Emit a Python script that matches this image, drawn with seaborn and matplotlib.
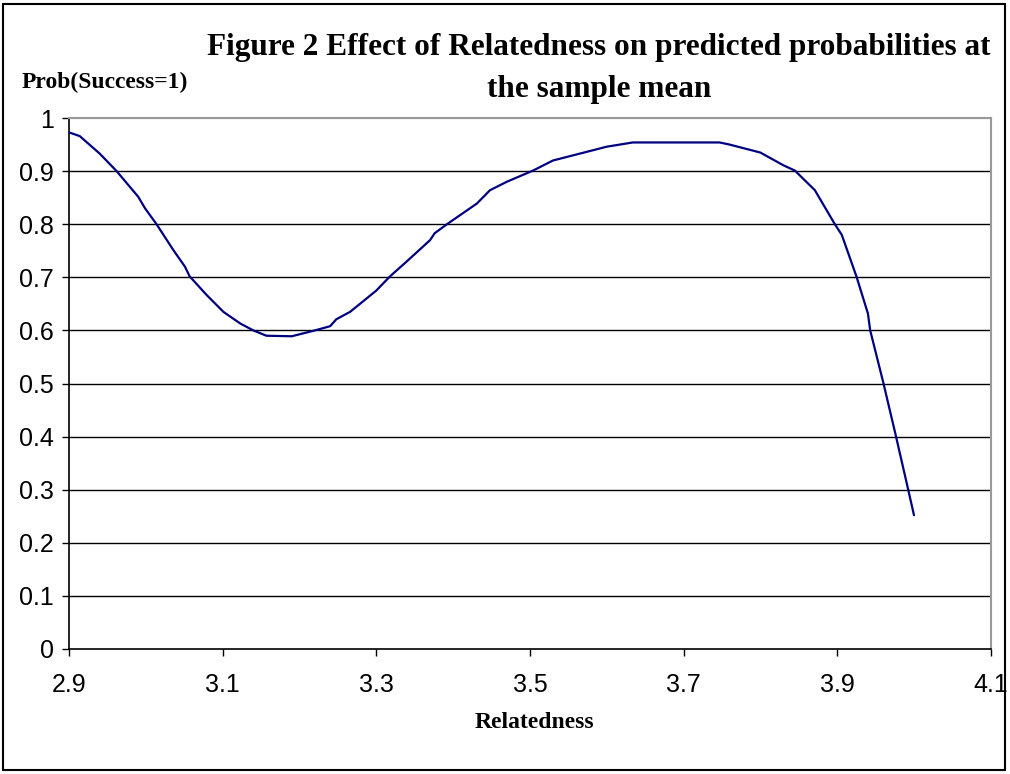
import matplotlib
matplotlib.use("Agg")
import matplotlib.pyplot as plt
import seaborn as sns
import pandas as pd
from matplotlib.patches import Rectangle

relatedness = [2.900, 2.914, 2.940, 2.962, 2.990, 2.999, 3.014, 3.036, 3.051, 3.057,
               3.079, 3.101, 3.123, 3.140, 3.157, 3.190, 3.220, 3.240, 3.248, 3.266,
               3.300, 3.318, 3.339, 3.370, 3.376, 3.392, 3.431, 3.448, 3.470, 3.504,
               3.530, 3.565, 3.600, 3.634, 3.747, 3.760, 3.800, 3.830, 3.845, 3.871,
               3.897, 3.906, 3.925, 3.940, 3.943, 3.960, 3.976, 3.992, 4.000]
prob = [0.973, 0.966, 0.933, 0.900, 0.852, 0.830, 0.800, 0.751, 0.720, 0.702,
        0.667, 0.635, 0.613, 0.600, 0.590, 0.589, 0.600, 0.608, 0.621, 0.635,
        0.675, 0.702, 0.729, 0.770, 0.783, 0.800, 0.839, 0.864, 0.880, 0.901,
        0.920, 0.933, 0.946, 0.954, 0.954, 0.950, 0.935, 0.911, 0.901, 0.864,
        0.800, 0.780, 0.702, 0.632, 0.600, 0.502, 0.404, 0.303, 0.252]
x_ticks = [2.9, 3.1, 3.3, 3.5, 3.7, 3.9, 4.1]
x_tick_labels = ["2.9", "3.1", "3.3", "3.5", "3.7", "3.9", "4.1"]
y_ticks = [0, 0.1, 0.2, 0.3, 0.4, 0.5, 0.6, 0.7, 0.8, 0.9, 1]
y_tick_labels = ["0", "0.1", "0.2", "0.3", "0.4", "0.5", "0.6", "0.7", "0.8", "0.9", "1"]

df = pd.DataFrame({"Relatedness": relatedness, "Prob": prob})

sns.set_style("white")
plt.rcParams['font.family'] = ['Liberation Sans', 'DejaVu Sans']
plt.rcParams['text.color'] = 'black'

fig = plt.figure(figsize=(10.1, 7.74), dpi=100)
ax = fig.add_axes([0.0683, 0.1615, 0.981 - 0.0683, 0.8475 - 0.1615])

for yv in y_ticks[1:-1]:
    ax.axhline(yv, color="black", lw=1.0, zorder=1)
ax.axhline(1.0, color="#999999", lw=1.5, zorder=1)

sns.lineplot(data=df, x="Relatedness", y="Prob", ax=ax, color="#000080",
             lw=1.6, zorder=3, sort=False)

ax.set_xlim(2.9, 4.1)
ax.set_ylim(0, 1)
ax.set_xticks(x_ticks)
ax.set_xticklabels(x_tick_labels)
ax.set_yticks(y_ticks)
ax.set_yticklabels(y_tick_labels)
ax.tick_params(axis="both", labelsize=18, direction="out", length=5, width=1,
               colors="black", left=True, bottom=True)
ax.tick_params(axis="x", pad=12)
ax.tick_params(axis="y", pad=6)

for s in ["left", "bottom"]:
    ax.spines[s].set_color("black")
    ax.spines[s].set_linewidth(1.2)
for s in ["top", "right"]:
    ax.spines[s].set_color("#999999")
    ax.spines[s].set_linewidth(1.5)

ax.set_xlabel("")
ax.set_ylabel("")

serif = ['Liberation Serif', 'DejaVu Serif']
fig.text(0.593, 0.938, "Figure 2 Effect of Relatedness on predicted probabilities at",
         ha="center", va="center", fontsize=22.5, fontweight="bold", family=serif,
         color="black")
fig.text(0.593, 0.884, "the sample mean",
         ha="center", va="center", fontsize=22.5, fontweight="bold", family=serif,
         color="black")
fig.text(0.021, 0.893, "Prob(Success=1)", ha="left", va="center",
         fontsize=17, fontweight="bold", family=serif, color="black")
fig.text(0.529, 0.066, "Relatedness", ha="center", va="center",
         fontsize=17, fontweight="bold", family=serif, color="black")

fig.patches.append(Rectangle((0.003, 0.005), 0.992, 0.99, transform=fig.transFigure,
                             fill=False, edgecolor="black", lw=1.5))

fig.savefig("out.png", dpi=100)
